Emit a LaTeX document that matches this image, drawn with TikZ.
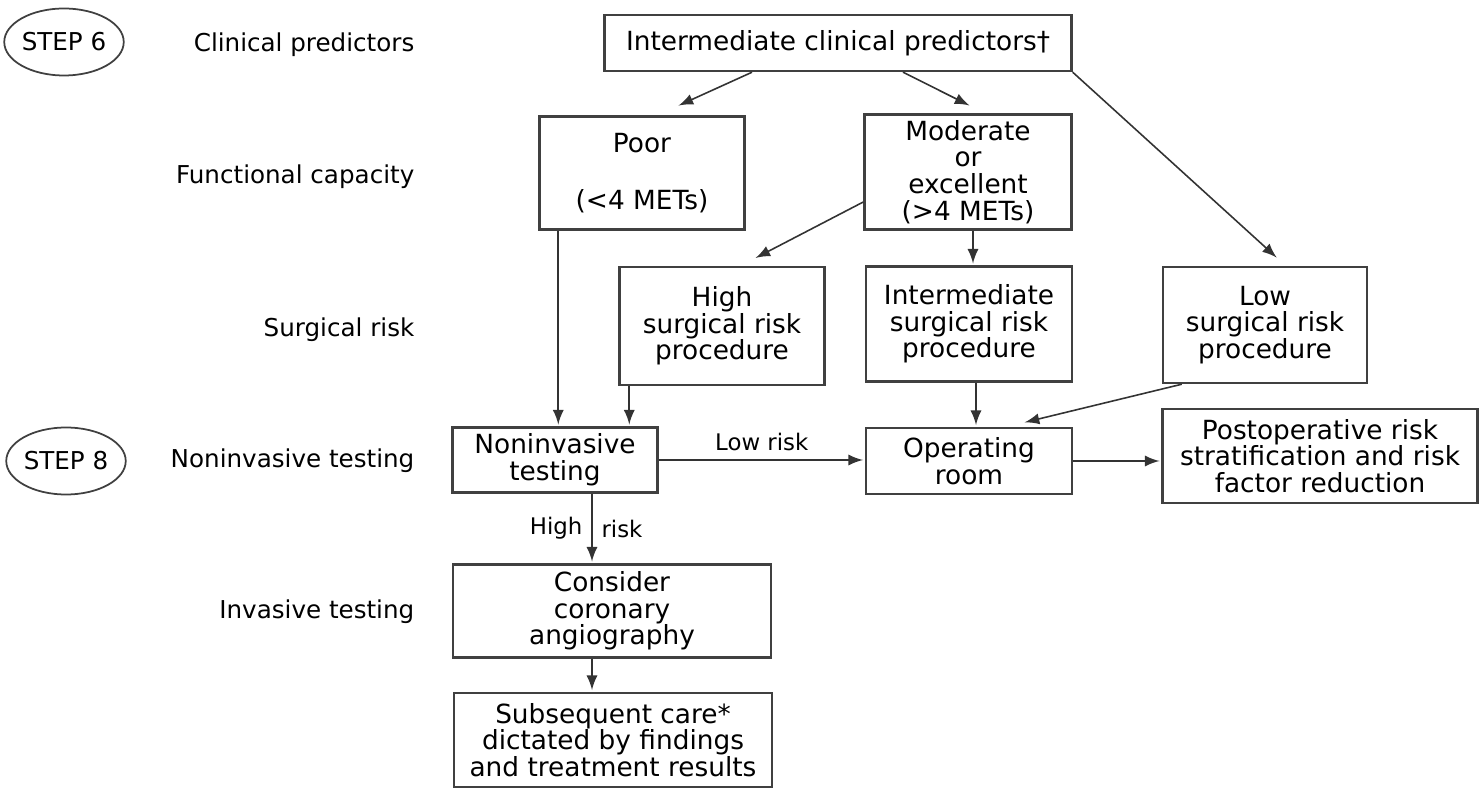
\documentclass[tikz,border=0pt]{standalone}
\usepackage{fontspec}
\setmainfont{DejaVu Sans}
\usetikzlibrary{arrows}
\usetikzlibrary{shapes}

\begin{document}
\begin{tikzpicture}[x=0.1mm, y=-0.1mm, >=latex]
\tikzstyle{boxStyle}=[draw=black!75, line width=0.7pt, align=center, inner sep=1pt, font=\fontsize{7.5}{7.6}\selectfont]
\tikzstyle{stepStyle}=[draw=black!75, line width=0.5pt, ellipse, inner sep=0pt, minimum width=11.3mm, minimum height=6.7mm, font=\fontsize{7}{8}\selectfont]
\tikzstyle{rowStyle}=[anchor=east, inner sep=0pt, font=\fontsize{7}{8}\selectfont]
\tikzstyle{arrowStyle}=[->, draw=black!80, line width=0.45pt, shorten >=0.5pt]
\tikzstyle{tagStyle}=[inner sep=2.5pt, font=\fontsize{6.5}{7}\selectfont]
\useasboundingbox (0,0) rectangle (1479,788);
% row labels
\node[stepStyle] (step6) at (64,42) {STEP 6};
\node[stepStyle] (step8) at (66,461) {STEP 8};
\node[rowStyle] (rowCP) at (415,45) {Clinical predictors};
\node[rowStyle] (rowFC) at (415,177) {Functional capacity};
\node[rowStyle] (rowSR) at (415,330) {Surgical risk};
\node[rowStyle] (rowNT) at (415,461) {Noninvasive testing};
\node[rowStyle] (rowIT) at (415,612) {Invasive testing};
% boxes
\node[boxStyle, minimum width=46.7mm, minimum height=5.6mm] (predictors) at (838,43) {Intermediate clinical predictors\textdagger};
\node[boxStyle, minimum width=20.5mm, minimum height=11.3mm] (poor) at (642,173) {Poor\\[8.5pt](<4 METs)};
\node[boxStyle, minimum width=20.7mm, minimum height=11.5mm] (moderate) at (968,172) {Moderate\\or\\excellent\\(>4 METs)};
\node[boxStyle, minimum width=20.5mm, minimum height=11.8mm] (high) at (722,326) {High\\surgical risk\\procedure};
\node[boxStyle, minimum width=20.6mm, minimum height=11.5mm] (inter) at (969,324) {Intermediate\\surgical risk\\procedure};
\node[boxStyle, minimum width=20.4mm, minimum height=11.6mm] (low) at (1265,325) {Low\\surgical risk\\procedure};
\node[boxStyle, minimum width=20.5mm, minimum height=6.5mm] (noninv) at (555,460) {Noninvasive\\testing};
\node[boxStyle, minimum width=20.6mm, minimum height=6.6mm] (oproom) at (969,461) {Operating\\room};
\node[boxStyle, minimum width=31.5mm, minimum height=9.4mm] (postop) at (1320,456) {Postoperative risk\\stratification and risk\\factor reduction};
\node[boxStyle, minimum width=31.8mm, minimum height=9.3mm] (consider) at (612,611) {Consider\\coronary\\angiography};
\node[boxStyle, minimum width=31.8mm, minimum height=9.4mm] (subseq) at (613,740) {Subsequent care*\\dictated by findings\\and treatment results};
% connectors
\draw[arrowStyle] ([xshift=-8.6mm]predictors.south) -- ([xshift=3.5mm,yshift=0.9mm]poor.north);
\draw[arrowStyle] ([xshift=6.5mm]predictors.south) -- ([xshift=0.3mm,yshift=0.7mm]moderate.north);
\draw[arrowStyle] (predictors.south east) -- ([xshift=1.3mm,yshift=0.7mm]low.north);
\draw[arrowStyle] ([yshift=-3mm]moderate.west) -- ([xshift=3.2mm,yshift=0.7mm]high.north);
\draw[arrowStyle] ([xshift=0.5mm]moderate.south) -- ([xshift=0.5mm]moderate.south |- inter.north);
\draw[arrowStyle] ([xshift=2mm]poor.south west) -- ([xshift=2mm]poor.south west |- noninv.north);
\draw[arrowStyle] ([xshift=1.1mm]high.south west) -- ([xshift=1.1mm]high.south west |- noninv.north);
\draw[arrowStyle] (noninv.east) -- node[tagStyle, above] {Low risk} (noninv.east -| oproom.west);
\draw[arrowStyle] ([xshift=0.7mm]inter.south) -- ([xshift=0.7mm]inter.south |- oproom.north);
\draw[arrowStyle] ([xshift=2mm]low.south west) -- ([xshift=5.4mm,yshift=0.4mm]oproom.north);
\draw[arrowStyle] (oproom.east) -- (oproom.east -| postop.west);
\draw[arrowStyle] ([xshift=3.7mm]noninv.south) -- node[tagStyle, left] {High} node[tagStyle, right] {risk} ([xshift=3.7mm]noninv.south |- consider.north);
\draw[arrowStyle] ([xshift=-2mm]consider.south) -- ([xshift=-2mm]consider.south |- subseq.north);
\end{tikzpicture}
\end{document}
